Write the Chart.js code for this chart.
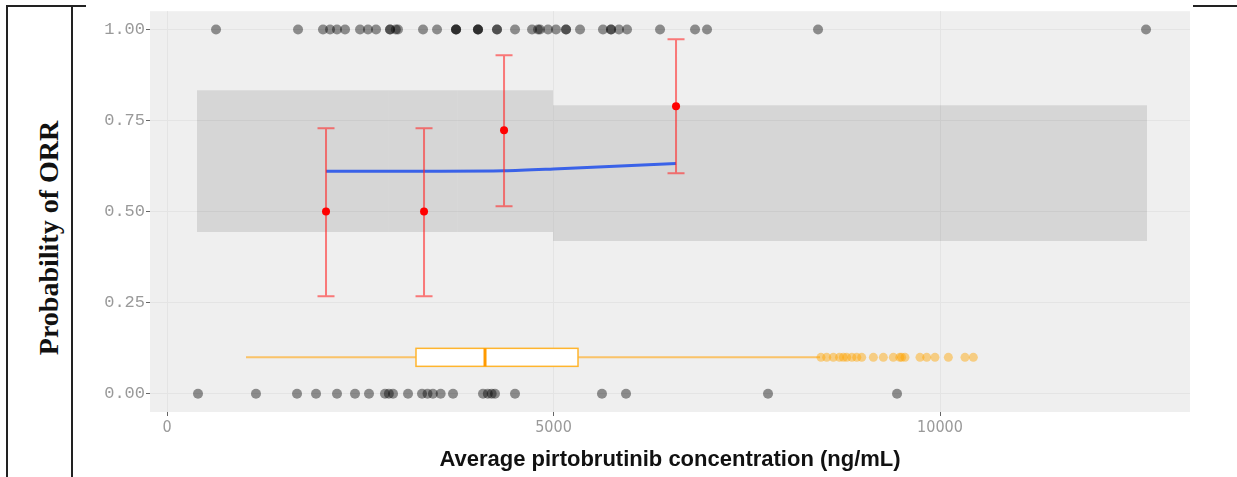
<!DOCTYPE html>
<html>
<head>
<meta charset="utf-8">
<script src="https://cdn.jsdelivr.net/npm/chart.js@4.4.1/dist/chart.umd.min.js"></script>
<style>
  body { margin: 0; background: #fff; width: 1237px; height: 477px; overflow: hidden; position: relative; }
  #orr { position: absolute; left: 0; top: 0; }
  .rule { position: absolute; background: #222; }
  #ylab {
    position: absolute; left: 49px; top: 238px;
    transform: translate(-50%, -50%) rotate(-90deg);
    font: bold 28px "Liberation Serif", serif; white-space: nowrap; color: #111;
  }
</style>
</head>
<body>
<div class="rule" style="left:6px;top:5px;width:2px;height:472px"></div>
<div class="rule" style="left:71px;top:5px;width:2px;height:472px"></div>
<div class="rule" style="left:6px;top:5px;width:80px;height:2px"></div>
<div class="rule" style="left:1193px;top:5px;width:44px;height:2px"></div>
<div id="ylab">Probability of ORR</div>
<canvas id="orr" width="1237" height="477"></canvas>
<script>
// axis ticks
const xTicks = [0, 5000, 10000]
const yTicks = [0, 0.25, 0.5, 0.75, 1]

// observed responses (jittered dots at 1 and 0)
const respX = [634, 1695, 2018, 2109, 2199, 2303, 2497, 2600, 2704, 2885, 2885, 2960, 2988,
  3312, 3493, 3739, 3739, 3739, 4023, 4023, 4023, 4269, 4269, 4502, 4722, 4800, 4825, 4929,
  5032, 5162, 5162, 5343, 5640, 5744, 5744, 5847, 5951, 6378, 6831, 6986, 8422, 12665]
const nonRespX = [401, 1151, 1682, 1928, 2199, 2432, 2613, 2820, 2870, 2924, 3118, 3299, 3370,
  3440, 3540, 3700, 4088, 4150, 4200, 4243, 4502, 5627, 5938, 7775, 9444]

// binned observed probability with 95% CI
const binX = [2057, 3325, 4360, 6585]
const binP = [0.5, 0.5, 0.723, 0.789]
const binLo = [0.268, 0.268, 0.515, 0.605]
const binHi = [0.729, 0.729, 0.929, 0.973]

// model fit
const fitX = [2057, 3325, 4360, 5000, 6585]
const fitY = [0.611, 0.611, 0.612, 0.617, 0.632]

// shaded prediction bands: edges and limits per segment
const bandEdges = [388, 2859, 3752, 4994, 12678]
const bandHi = [0.833, 0.833, 0.833, 0.792]
const bandLo = [0.444, 0.444, 0.444, 0.419]

// exposure boxplot
const boxY = 0.1
const boxWhiskerLo = 1022
const boxQ1 = 3221
const boxMedian = 4114
const boxQ3 = 5317
const boxWhiskerHi = 8448
const boxOutliers = [8460, 8534, 8620, 8700, 8750, 8793, 8860, 8923, 8987, 9138, 9267, 9396,
  9480, 9504, 9547, 9741, 9828, 9935, 10108, 10323, 10431]

const bandSets = bandHi.map((hi, i) => ({
  type: "line",
  data: [{ x: bandEdges[i], y: hi }, { x: bandEdges[i + 1], y: hi }],
  borderWidth: 0,
  pointRadius: 0,
  backgroundColor: "rgba(0,0,0,0.1)",
  fill: { value: bandLo[i] },
  order: 10,
}))

const panelBg = {
  id: "panelBg",
  beforeDraw(chart) {
    const { ctx, chartArea: a } = chart
    ctx.save()
    ctx.fillStyle = "#efefef"
    ctx.fillRect(a.left, a.top, a.right - a.left, a.bottom - a.top)
    ctx.restore()
  },
}

const boxPlot = {
  id: "boxPlot",
  beforeDatasetsDraw(chart) {
    const { ctx, scales: { x, y } } = chart
    const yc = y.getPixelForValue(boxY)
    ctx.save()
    ctx.strokeStyle = "rgba(255,170,30,0.65)"
    ctx.lineWidth = 2
    ctx.beginPath()
    ctx.moveTo(x.getPixelForValue(boxWhiskerLo), yc)
    ctx.lineTo(x.getPixelForValue(boxQ1), yc)
    ctx.moveTo(x.getPixelForValue(boxQ3), yc)
    ctx.lineTo(x.getPixelForValue(boxWhiskerHi), yc)
    ctx.stroke()
    const l = x.getPixelForValue(boxQ1)
    const r = x.getPixelForValue(boxQ3)
    ctx.fillStyle = "#fff"
    ctx.fillRect(l, yc - 9, r - l, 18)
    ctx.strokeStyle = "#ffb52e"
    ctx.lineWidth = 1.5
    ctx.strokeRect(l, yc - 9, r - l, 18)
    ctx.strokeStyle = "#ff9a00"
    ctx.lineWidth = 3
    ctx.beginPath()
    const m = x.getPixelForValue(boxMedian)
    ctx.moveTo(m, yc - 9)
    ctx.lineTo(m, yc + 9)
    ctx.stroke()
    ctx.restore()
  },
}

const errorBars = {
  id: "errorBars",
  afterDatasetDraw(chart, args) {
    if (chart.data.datasets[args.index].label !== "fit") return
    const { ctx, scales: { x, y } } = chart
    ctx.save()
    ctx.strokeStyle = "rgba(255,40,40,0.6)"
    ctx.lineWidth = 2
    ctx.beginPath()
    binX.forEach((v, i) => {
      const px = x.getPixelForValue(v)
      const lo = y.getPixelForValue(binLo[i])
      const hi = y.getPixelForValue(binHi[i])
      ctx.moveTo(px, lo)
      ctx.lineTo(px, hi)
      ctx.moveTo(px - 8.5, lo)
      ctx.lineTo(px + 8.5, lo)
      ctx.moveTo(px - 8.5, hi)
      ctx.lineTo(px + 8.5, hi)
    })
    ctx.stroke()
    ctx.restore()
  },
}

new Chart(document.getElementById("orr"), {
  type: "scatter",
  data: {
    datasets: [
      ...bandSets,
      {
        label: "fit",
        type: "line",
        data: fitX.map((v, i) => ({ x: v, y: fitY[i] })),
        borderColor: "#3a62e8",
        borderWidth: 3,
        pointRadius: 0,
        tension: 0.3,
        fill: false,
        order: 8,
      },
      {
        data: respX.map((v) => ({ x: v, y: 1 })).concat(nonRespX.map((v) => ({ x: v, y: 0 }))),
        backgroundColor: "rgba(0,0,0,0.42)",
        borderWidth: 0,
        pointRadius: 5,
        order: 3,
      },
      {
        data: boxOutliers.map((v) => ({ x: v, y: boxY })),
        backgroundColor: "rgba(255,165,0,0.45)",
        borderWidth: 0,
        pointRadius: 4.5,
        order: 4,
      },
      {
        data: binX.map((v, i) => ({ x: v, y: binP[i] })),
        backgroundColor: "#ff0000",
        borderWidth: 0,
        pointRadius: 4,
        order: 1,
      },
    ],
  },
  options: {
    responsive: false,
    animation: false,
    events: [],
    layout: { padding: { left: 90, right: 47, top: 10, bottom: 0 } },
    plugins: { legend: { display: false }, tooltip: { enabled: false } },
    scales: {
      x: {
        type: "linear",
        min: -220,
        max: 13234,
        afterBuildTicks: (s) => { s.ticks = xTicks.map((v) => ({ value: v })) },
        afterFit: (s) => { s.height = 65 },
        border: { display: false },
        grid: { color: "#e4e4e4", tickColor: "#666", tickLength: 4 },
        ticks: {
          padding: 2,
          color: "#999",
          font: { family: "'Liberation Sans Narrow', 'DejaVu Sans Condensed', sans-serif", size: 16 },
          callback: (v) => String(v),
        },
        title: {
          display: true,
          text: "Average pirtobrutinib concentration (ng/mL)",
          color: "#111",
          font: { family: "'Liberation Sans', Arial, sans-serif", size: 22, weight: "bold" },
          padding: { top: 0, bottom: 4 },
        },
      },
      y: {
        min: -0.05,
        max: 1.05,
        afterBuildTicks: (s) => { s.ticks = yTicks.map((v) => ({ value: v })) },
        afterFit: (s) => { s.width = 60 },
        border: { display: false },
        grid: { color: "#e4e4e4", tickColor: "#666", tickLength: 4 },
        ticks: {
          padding: 1,
          color: "#999",
          font: { family: "'Liberation Mono', 'DejaVu Sans Mono', monospace", size: 17 },
          callback: (v) => v.toFixed(2),
        },
      },
    },
  },
  plugins: [panelBg, boxPlot, errorBars],
})
</script>
</body>
</html>
